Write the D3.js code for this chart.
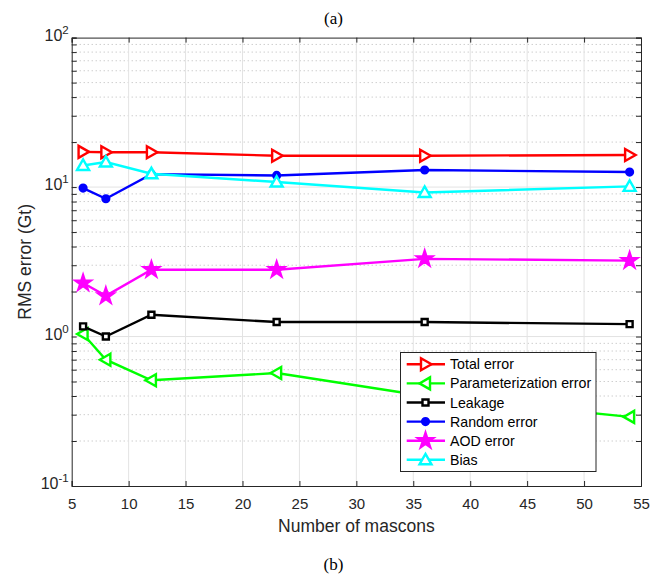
<!DOCTYPE html>
<html>
<head>
<meta charset="utf-8">
<title>RMS error vs mascons</title>
<style>
  body { margin: 0; background: #fff; }
  svg { display: block; }
  .tick text { font-family: "Liberation Sans", Arial, sans-serif; }
</style>
</head>
<body>
<svg width="667" height="580"></svg>
<script src="https://d3js.org/d3.v7.min.js"></script>
<script>
// data
var mascons = [6, 8, 12, 23, 36, 54];
var totalError = [17.2, 17.1, 17.1, 16.2, 16.2, 16.4];
var paramError = [1.04, 0.70, 0.51, 0.57, 0.40, 0.29];
var leakage = [1.17, 1.00, 1.40, 1.25, 1.25, 1.21];
var randomError = [9.85, 8.35, 12.2, 11.96, 13.0, 12.6];
var aodError = [2.28, 1.87, 2.80, 2.80, 3.31, 3.22];
var bias = [13.95, 14.7, 12.27, 10.8, 9.2, 10.1];

var seriesNames = ["Total error", "Parameterization error", "Leakage", "Random error", "AOD error", "Bias"];
var seriesColors = ["#ff0000", "#00ff00", "#000000", "#0000ff", "#ff00ff", "#00ffff"];
var seriesMarkers = ["right", "left", "square", "circle", "star", "up"];
var seriesValues = [totalError, paramError, leakage, randomError, aodError, bias];

var xTicks = [5, 10, 15, 20, 25, 30, 35, 40, 45, 50, 55];
var yDecades = [0.1, 1, 10, 100];
var yExponents = ["-1", "0", "1", "2"];

var svg = d3.select("svg");
// plot box (note: "top" is a reserved window prop, so use other names)
var pLeft = 71.7, pRight = 641, pTop = 37.6, pBottom = 486;
var font = "'Liberation Sans', Arial, Helvetica, sans-serif";
var serif = "'Liberation Serif', 'DejaVu Serif', serif";

var x = d3.scaleLinear().domain([5, 55]).range([pLeft, pRight]);
var y = d3.scaleLog().domain([0.1, 100]).range([pBottom, pTop]);

// minor y values (2..9 of each decade)
var yMinor = [];
[0.1, 1, 10].forEach(function(d) {
  for (var k = 2; k <= 9; k++) yMinor.push(d * k);
});

var grid = svg.append("g");
// minor dotted grid
grid.selectAll("line.minor").data(yMinor).enter().append("line")
    .attr("x1", pLeft).attr("x2", pRight)
    .attr("y1", function(d) { return y(d); }).attr("y2", function(d) { return y(d); })
    .attr("stroke", "#b8b8b8").attr("stroke-width", 1)
    .attr("stroke-dasharray", "1,3");
// major grids
grid.selectAll("line.xg").data(xTicks.slice(1, -1)).enter().append("line")
    .attr("x1", function(d) { return x(d); }).attr("x2", function(d) { return x(d); })
    .attr("y1", pTop).attr("y2", pBottom)
    .attr("stroke", "#e3e3e3").attr("stroke-width", 1);
grid.selectAll("line.yg").data([1, 10]).enter().append("line")
    .attr("x1", pLeft).attr("x2", pRight)
    .attr("y1", function(d) { return y(d); }).attr("y2", function(d) { return y(d); })
    .attr("stroke", "#e3e3e3").attr("stroke-width", 1);

// axes (ticks inward, box on)
var tickLen = 5;
var axisColor = "#262626";
var bottomAxis = svg.append("g").attr("transform", "translate(0," + pBottom + ")")
    .call(d3.axisBottom(x).tickValues(xTicks).tickSize(-tickLen).tickPadding(12.5).tickFormat(d3.format("d")));
var topAxis = svg.append("g").attr("transform", "translate(0," + pTop + ")")
    .call(d3.axisTop(x).tickValues(xTicks).tickSize(-tickLen).tickFormat(""));
var leftAxis = svg.append("g").attr("transform", "translate(" + pLeft + ",0)")
    .call(d3.axisLeft(y).tickValues(yDecades.concat(yMinor)).tickSize(-tickLen).tickFormat(""));
var rightAxis = svg.append("g").attr("transform", "translate(" + pRight + ",0)")
    .call(d3.axisRight(y).tickValues(yDecades.concat(yMinor)).tickSize(-tickLen).tickFormat(""));

[bottomAxis, topAxis, leftAxis, rightAxis].forEach(function(a) {
  a.select(".domain").attr("stroke", axisColor).attr("stroke-width", 1);
  a.selectAll(".tick line").attr("stroke", axisColor);
});
bottomAxis.selectAll(".tick text").attr("font-size", 15).attr("fill", "#262626");

// y tick labels as 10^n
var yl = svg.append("g");
yDecades.forEach(function(d, i) {
  var t = yl.append("text")
      .attr("x", pLeft - 3).attr("y", y(d) + 3)
      .attr("text-anchor", "end")
      .attr("font-family", font).attr("font-size", 16).attr("fill", "#262626");
  t.append("tspan").text("10");
  t.append("tspan").attr("dy", -7).attr("font-size", 11.5).text(yExponents[i]);
});

// series lines and markers
function markerPath(type) {
  switch (type) {
    case "right": return "M-4.5,-6L6,0L-4.5,6Z";
    case "left": return "M4.5,-6L-6,0L4.5,6Z";
    case "up": return "M-6,4.5L0,-6L6,4.5Z";
    case "square": return "M-3,-3H3V3H-3Z";
    case "circle": return d3.symbol().type(d3.symbolCircle).size(36)();
    case "star": return d3.symbol().type(d3.symbolStar).size(70)();
  }
}
var filled = { circle: true, star: true };

var line = d3.line()
    .x(function(d) { return x(d[0]); })
    .y(function(d) { return y(d[1]); });

seriesValues.forEach(function(vals, si) {
  var pts = mascons.map(function(m, i) { return [m, vals[i]]; });
  var g = svg.append("g");
  g.append("path").datum(pts)
      .attr("d", line)
      .attr("fill", "none")
      .attr("stroke", seriesColors[si])
      .attr("stroke-width", 2.4);
  g.selectAll("path.mk").data(pts).enter().append("path")
      .attr("class", "mk")
      .attr("transform", function(d) { return "translate(" + x(d[0]) + "," + y(d[1]) + ")"; })
      .attr("d", markerPath(seriesMarkers[si]))
      .attr("fill", filled[seriesMarkers[si]] ? seriesColors[si] : "#fff")
      .attr("stroke", seriesColors[si])
      .attr("stroke-width", 2.4)
      .attr("stroke-linejoin", "miter");
});

// legend
var lg = svg.append("g");
lg.append("rect")
    .attr("x", 400.5).attr("y", 352.5).attr("width", 195.5).attr("height", 119)
    .attr("fill", "#fff").attr("stroke", axisColor).attr("stroke-width", 1);
seriesNames.forEach(function(name, i) {
  var cy = 364.3 + i * 19.1;
  lg.append("line").attr("x1", 406.7).attr("x2", 445).attr("y1", cy).attr("y2", cy)
      .attr("stroke", seriesColors[i]).attr("stroke-width", 2.4);
  lg.append("path")
      .attr("transform", "translate(425.5," + cy + ")")
      .attr("d", markerPath(seriesMarkers[i]))
      .attr("fill", filled[seriesMarkers[i]] ? seriesColors[i] : "#fff")
      .attr("stroke", seriesColors[i]).attr("stroke-width", 2.4);
  lg.append("text").attr("x", 450).attr("y", cy + 5)
      .attr("font-family", font).attr("font-size", 14.2).attr("fill", "#000")
      .text(name);
});

// axis labels
svg.append("text")
    .attr("x", (pLeft + pRight) / 2).attr("y", 532)
    .attr("text-anchor", "middle")
    .attr("font-family", font).attr("font-size", 17.5).attr("fill", "#262626")
    .text("Number of mascons");
svg.append("text")
    .attr("transform", "translate(31," + ((pTop + pBottom) / 2) + ") rotate(-90)")
    .attr("text-anchor", "middle")
    .attr("font-family", font).attr("font-size", 17.5).attr("fill", "#262626")
    .text("RMS error (Gt)");

// panel labels
svg.append("text").attr("x", 333.5).attr("y", 23.5).attr("text-anchor", "middle")
    .attr("font-family", serif).attr("font-size", 17).text("(a)");
svg.append("text").attr("x", 333.5).attr("y", 570).attr("text-anchor", "middle")
    .attr("font-family", serif).attr("font-size", 17).text("(b)");
</script>
</body>
</html>
